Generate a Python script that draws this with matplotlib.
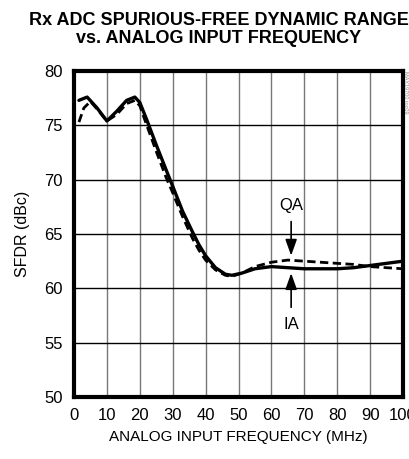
import matplotlib
matplotlib.use('Agg')
import matplotlib.pyplot as plt

# fonts: narrow sans if present
plt.rcParams['font.family'] = ['Liberation Sans Narrow', 'Liberation Sans', 'DejaVu Sans']

# ==============================
# data
# ==============================
freq_ia = [1.5, 4, 7, 10, 13, 16, 18.5, 20, 22, 25, 28, 30, 33, 36, 38, 40, 43, 46, 48, 51, 55, 60, 65, 70, 75, 80, 85, 90, 95, 100]
sfdr_ia = [77.3, 77.6, 76.6, 75.4, 76.3, 77.3, 77.6, 77.1, 75.6, 73.2, 70.9, 69.4, 67.1, 65.2, 64.0, 63.0, 61.9, 61.3, 61.2, 61.4, 61.8, 62.0, 61.9, 61.8, 61.8, 61.8, 61.9, 62.1, 62.3, 62.5]

freq_qa = [1.5, 3, 5, 7, 10, 13, 16, 18.5, 20, 22, 25, 28, 30, 33, 36, 38, 40, 43, 46, 48, 51, 55, 60, 65, 70, 75, 80, 85, 90, 95, 100]
sfdr_qa = [75.3, 76.6, 77.2, 76.5, 75.4, 76.0, 77.0, 77.3, 76.8, 75.1, 72.6, 70.2, 68.8, 66.6, 64.6, 63.5, 62.6, 61.7, 61.2, 61.1, 61.4, 62.0, 62.4, 62.6, 62.5, 62.4, 62.3, 62.2, 62.0, 61.9, 61.8]

x_ticks = [0, 10, 20, 30, 40, 50, 60, 70, 80, 90, 100]
y_ticks = [50, 55, 60, 65, 70, 75, 80]

fig = plt.figure(figsize=(4.09, 4.59), dpi=100)
ax = fig.add_axes([74 / 409, 1 - 397 / 459, (403 - 74) / 409, (397 - 71) / 459])

ax.plot(freq_ia, sfdr_ia, color='black', lw=2.4, solid_capstyle='round')
ax.plot(freq_qa, sfdr_qa, color='black', lw=2.0, ls=(0, (3.0, 1.6)))

ax.set_xlim(0, 100)
ax.set_ylim(50, 80)
ax.set_xticks(x_ticks)
ax.set_yticks(y_ticks)
ax.tick_params(length=0, labelsize=12, pad=8)
ax.grid(axis='x', color='#777777', lw=1.0)
ax.grid(axis='y', color='black', lw=1.0)
for s in ax.spines.values():
    s.set_linewidth(3)

ax.set_xlabel('ANALOG INPUT FREQUENCY (MHz)', fontsize=11, labelpad=5)
ax.set_ylabel('SFDR (dBc)', fontsize=11.5, labelpad=10)

# QA / IA annotations
ax.annotate('', xy=(66, 62.75), xytext=(66, 66.4),
            arrowprops=dict(arrowstyle='-|>,head_width=0.25,head_length=0.7', color='black', lw=1.2, mutation_scale=14))
ax.annotate('', xy=(66, 61.65), xytext=(66, 58.0),
            arrowprops=dict(arrowstyle='-|>,head_width=0.25,head_length=0.7', color='black', lw=1.2, mutation_scale=14))
ax.text(66, 67.6, 'QA', ha='center', va='center', fontsize=12)
ax.text(66, 56.7, 'IA', ha='center', va='center', fontsize=12)

fig.text(0.535, 0.935, 'Rx ADC SPURIOUS-FREE DYNAMIC RANGE\nvs. ANALOG INPUT FREQUENCY',
         ha='center', va='center', fontsize=13, fontweight='bold', linespacing=1.1)
fig.text(0.992, 0.80, 'MAX19700 toc09', rotation=-90, fontsize=4, color='#888888',
         ha='center', va='center')

fig.savefig('out.png', dpi=100)
